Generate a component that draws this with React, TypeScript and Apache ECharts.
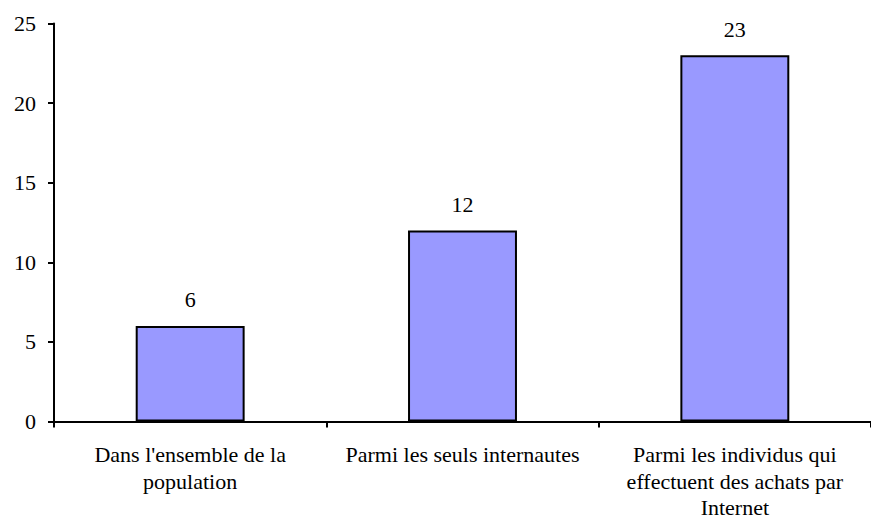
import React, { useEffect, useRef } from "react";
import * as echarts from "echarts";

const categories = [
  "Dans l'ensemble de la\npopulation",
  "Parmi les seuls internautes",
  "Parmi les individus qui\neffectuent des achats par\nInternet",
];
const values = [6, 12, 23];
const yTicks = { min: 0, max: 25, interval: 5 };

const FONT = "Times New Roman, Liberation Serif, serif";

export default function App() {
  const ref = useRef<HTMLDivElement>(null);
  useEffect(() => {
    if (!ref.current) return;
    const chart = echarts.init(ref.current, undefined, { renderer: "svg" });
    chart.setOption({
      animation: false,
      backgroundColor: "#ffffff",
      textStyle: { fontFamily: FONT },
      grid: { left: 54, top: 23.5, bottom: 94.5, width: 824.5, containLabel: false },
      xAxis: {
        type: "category",
        data: categories,
        axisLine: { lineStyle: { color: "#000", width: 2 } },
        axisTick: { show: true, length: 6, lineStyle: { color: "#000", width: 2 } },
        axisLabel: {
          color: "#000",
          fontFamily: FONT,
          fontSize: 22,
          lineHeight: 26.5,
          margin: 20,
          interval: 0,
        },
        splitLine: { show: false },
      },
      yAxis: {
        type: "value",
        min: yTicks.min,
        max: yTicks.max,
        interval: yTicks.interval,
        axisLine: { show: true, lineStyle: { color: "#000", width: 2 } },
        axisTick: { show: true, length: 6, lineStyle: { color: "#000", width: 2 } },
        axisLabel: { color: "#000", fontFamily: FONT, fontSize: 22, margin: 18 },
        splitLine: { show: false },
      },
      series: [
        {
          type: "bar",
          data: values,
          barWidth: "40%",
          itemStyle: { color: "#9999ff", borderColor: "#000", borderWidth: 2 },
          label: {
            show: true,
            position: "top",
            distance: 15,
            color: "#000",
            fontFamily: FONT,
            fontSize: 22,
          },
        },
      ],
    });
    return () => chart.dispose();
  }, []);
  return <div ref={ref} style={{ width: 871, height: 521, position: "fixed", left: 0, top: 0 }} />;
}
